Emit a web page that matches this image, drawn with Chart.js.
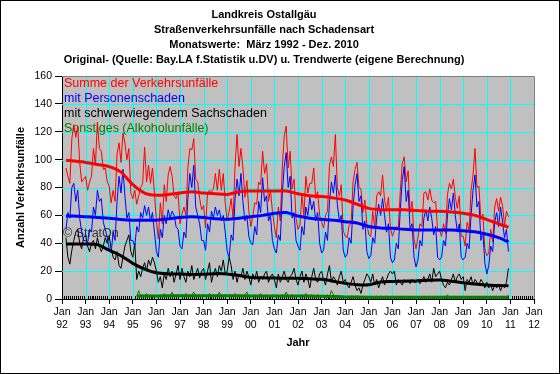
<!DOCTYPE html>
<html>
<head>
<meta charset="utf-8">
<script src="https://cdn.jsdelivr.net/npm/chart.js@4"></script>
<style>
  html, body { margin: 0; padding: 0; background: #fff; }
  canvas { display: block; }
</style>
</head>
<body>
<canvas id="chart" width="560" height="374"></canvas>
<script>
// Monatswerte Maerz 1992 - Dez. 2010
const startYear = 1992;
const startMonth = 3;

const titleLines = [
    'Landkreis Ostallgäu',
    'Straßenverkehrsunfälle nach Schadensart',
    'Monatswerte:  März 1992 - Dez. 2010',
    'Original- (Quelle: Bay.LA f.Statistik u.DV) u. Trendwerte (eigene Berechnung)'
];
const seriesNames = [
    'Summe der Verkehrsunfälle',
    'mit Personenschaden',
    'mit schwerwiegendem Sachschaden',
    'Sonstiges (Alkoholunfälle)'
];
const seriesColors = ['#FF0000', '#0000FF', '#000000', '#008000'];
const yearTicks = [1992, 1993, 1994, 1995, 1996, 1997, 1998, 1999, 2000, 2001, 2002,
                   2003, 2004, 2005, 2006, 2007, 2008, 2009, 2010, 2011, 2012];
const valueTicks = [0, 20, 40, 60, 80, 100, 120, 140, 160];

// Summe der Verkehrsunfaelle (ab Maerz 1992)
const summe = [
    94, 88, 83, 115, 125, 116, 124, 98, 84, 86,
    88, 78, 84, 88, 108, 96, 127, 108, 106, 93, 94, 84,
    81, 69, 78, 70, 104, 112, 98, 119, 112, 100, 108, 76,
    72, 78, 68, 74, 80, 83, 109, 84, 96, 83, 94, 76,
    56, 43, 69, 54, 82, 70, 89, 95, 88, 74, 72, 77,
    54, 61, 66, 60, 94, 108, 107, 115, 86, 84, 72, 64,
    67, 51, 76, 78, 77, 79, 90, 78, 93, 78, 90, 69,
    56, 63, 72, 58, 96, 118, 95, 108, 94, 73, 85, 63,
    52, 59, 69, 68, 84, 82, 106, 90, 97, 70, 78, 63,
    52, 44, 66, 56, 94, 117, 124, 94, 106, 79, 86, 58,
    50, 53, 75, 60, 88, 76, 83, 83, 94, 72, 77, 60,
    55, 51, 60, 63, 96, 102, 95, 118, 80, 74, 82, 49,
    45, 44, 53, 54, 84, 93, 98, 80, 79, 62, 71, 54,
    46, 45, 63, 51, 74, 77, 74, 89, 71, 64, 73, 51,
    45, 49, 52, 51, 77, 97, 102, 84, 92, 62, 70, 43,
    36, 44, 54, 52, 76, 77, 71, 79, 71, 69, 70, 49,
    49, 45, 54, 47, 75, 83, 79, 86, 73, 65, 74, 45,
    45, 38, 55, 49, 78, 89, 108, 80, 81, 57, 61, 36,
    31, 33, 50, 41, 66, 72, 63, 73, 67, 53, 63, 59
];

// mit Personenschaden
const personen = [
    50, 62, 58, 80, 83, 70, 78, 58, 48, 42,
    42, 40, 50, 48, 66, 60, 78, 70, 72, 55, 50, 44,
    36, 33, 48, 42, 70, 88, 76, 93, 74, 58, 62, 42,
    42, 38, 52, 48, 62, 58, 67, 60, 66, 56, 62, 48,
    34, 30, 50, 44, 60, 54, 64, 58, 63, 60, 52, 50,
    38, 36, 48, 44, 72, 90, 80, 96, 66, 60, 54, 42,
    42, 35, 54, 48, 63, 58, 66, 60, 64, 56, 60, 48,
    34, 30, 46, 42, 72, 86, 74, 90, 70, 56, 60, 45,
    40, 39, 52, 46, 70, 62, 87, 70, 74, 56, 60, 42,
    36, 33, 46, 42, 75, 95, 105, 80, 88, 58, 62, 42,
    38, 35, 52, 46, 66, 60, 73, 64, 70, 56, 62, 40,
    33, 35, 48, 42, 70, 84, 76, 89, 68, 56, 60, 35,
    30, 32, 44, 40, 66, 82, 90, 70, 74, 50, 56, 34,
    29, 31, 44, 40, 58, 68, 60, 72, 60, 48, 54, 30,
    26, 28, 40, 36, 64, 85, 95, 70, 78, 50, 54, 30,
    23, 28, 42, 38, 58, 64, 56, 66, 58, 46, 52, 30,
    28, 30, 42, 38, 60, 72, 64, 76, 60, 48, 54, 30,
    28, 30, 40, 36, 60, 78, 89, 66, 70, 42, 48, 26,
    18, 24, 38, 34, 55, 62, 52, 66, 55, 44, 50, 34
];

// mit schwerwiegendem Sachschaden
const sachschaden = [
    44, 30, 25, 35, 42, 48, 50, 40, 36, 44,
    46, 38, 34, 40, 42, 36, 44, 38, 34, 38, 44, 40,
    45, 36, 30, 28, 34, 24, 22, 30, 38, 42, 46, 34,
    30, 40, 14, 20, 16, 22, 26, 20, 28, 24, 30, 26,
    20, 12, 16, 8, 18, 14, 22, 16, 20, 12, 18, 24,
    14, 22, 16, 12, 20, 16, 24, 14, 18, 22, 15, 20,
    22, 14, 20, 26, 12, 18, 22, 16, 24, 20, 28, 18,
    20, 30, 24, 14, 20, 12, 18, 16, 22, 14, 20, 16,
    10, 18, 14, 20, 12, 16, 14, 18, 20, 12, 16, 18,
    14, 8, 18, 12, 16, 20, 14, 12, 16, 18, 22, 14,
    10, 16, 20, 12, 18, 14, 8, 16, 22, 14, 12, 18,
    20, 14, 10, 18, 24, 12, 16, 14, 10, 16, 20, 12,
    14, 10, 8, 12, 16, 10, 6, 8, 4, 10, 14, 18,
    16, 12, 18, 10, 14, 8, 12, 16, 10, 14, 18, 20,
    18, 20, 10, 14, 12, 10, 14, 12, 13, 11, 14, 12,
    12, 14, 11, 13, 16, 12, 14, 18, 12, 22, 16, 18,
    20, 14, 10, 8, 12, 10, 14, 18, 12, 16, 18, 14,
    16, 6, 14, 12, 16, 10, 14, 12, 10, 14, 12, 8,
    12, 8, 10, 6, 10, 8, 10, 6, 10, 8, 12, 22
];

// Sonstiges (Alkoholunfaelle), erst ab Maerz 1995
const sonstigesStartYear = 1995;
const sonstiges = [
    2, 6, 2, 3, 2, 4, 2, 3, 2, 2,
    2, 1, 3, 2, 4, 2, 3, 2, 5, 2, 2, 3,
    2, 3, 2, 4, 2, 2, 3, 5, 2, 2, 3, 2,
    3, 2, 2, 4, 2, 3, 2, 2, 5, 2, 2, 3,
    2, 3, 2, 2, 4, 2, 3, 2, 2, 3, 5, 2,
    2, 2, 3, 2, 2, 4, 2, 2, 3, 2, 2, 3,
    2, 3, 2, 2, 3, 2, 5, 2, 2, 3, 2, 2,
    2, 2, 3, 2, 4, 2, 2, 3, 2, 2, 3, 2,
    2, 2, 2, 3, 2, 6, 3, 2, 2, 2, 2, 2,
    1, 2, 1, 2, 2, 1, 2, 2, 1, 2, 1, 2,
    1, 2, 1, 1, 2, 1, 2, 1, 1, 2, 1, 1,
    1, 1, 2, 1, 1, 2, 1, 2, 1, 1, 2, 1,
    1, 2, 1, 1, 2, 1, 1, 2, 1, 1, 2, 1,
    1, 1, 2, 1, 3, 1, 1, 2, 1, 1, 2, 1,
    1, 2, 1, 1, 2, 1, 1, 2, 1, 1, 1, 2,
    1, 1, 2, 1, 1, 2, 1, 1, 2, 1, 1, 3
];

const trendYears = [1992.17, 1992.5, 1993, 1993.5, 1994, 1994.5, 1995, 1995.5, 1996, 1996.5,
                    1997, 1997.5, 1998, 1998.5, 1999, 1999.5, 2000, 2000.5, 2001, 2001.5,
                    2002, 2002.5, 2003, 2003.5, 2004, 2004.5, 2005, 2005.5, 2006, 2006.5,
                    2007, 2007.5, 2008, 2008.5, 2009, 2009.5, 2010, 2010.5, 2010.92];
const trendSumme = [99.5, 99, 98, 96.5, 95, 91, 82, 76, 74.5, 75,
                    76, 77, 76, 75.5, 75, 77, 77.5, 77.5, 77.5, 77.5,
                    75.5, 74, 73.5, 72.5, 71, 68, 65, 64, 64, 64,
                    63.5, 63, 63, 62.5, 61.5, 60, 57, 54, 51.5];
const trendPersonen = [59.5, 59.5, 59, 58.5, 58, 57, 56.5, 56.5, 56.5, 57.5,
                       58.5, 59, 58.5, 57.5, 57.2, 58, 59, 60, 61.5, 62,
                       59.5, 58, 57.2, 56.5, 55.5, 54.5, 52, 51, 50.7, 50,
                       49.5, 49.5, 49.5, 49.5, 49, 48.3, 46.5, 44, 41];
const trendSachschaden = [39.5, 39.5, 39.5, 39, 35, 31, 25.6, 21.5, 18.8, 18,
                          17.9, 17.5, 17.8, 18.2, 18, 16.8, 15.5, 15.2, 15, 14.9,
                          14.8, 14.5, 14.1, 12.8, 11.2, 10.3, 10.2, 12.2, 12.6, 12.8,
                          13, 13.4, 13.6, 12.8, 11.7, 10.8, 10, 9.7, 9.5];
const trendSonstigesYears = [1995.17, 1996, 1997, 1998, 1999, 2000, 2001, 2002, 2003,
                             2004, 2005, 2006, 2007, 2008, 2009, 2010, 2010.92];
const trendSonstiges = [2.1, 2.2, 2.3, 2.3, 2.3, 2.2, 2.2, 2.1, 2.0,
                        1.5, 1.3, 1.3, 1.3, 1.3, 1.3, 1.3, 1.3];

const fontFamily = 'Arial, "Liberation Sans", sans-serif';

function monthlyPoints(values, year, month) {
    return values.map((v, i) => ({x: year + (month - 1 + i) / 12, y: v}));
}

function trendPoints(years, values) {
    return years.map((x, i) => ({x: x, y: values[i]}));
}

// Hintergrund, Gitter, Rahmen, Titel und Beschriftung
const decor = {
    id: 'decor',
    beforeDraw(chart) {
        const {ctx, chartArea: a} = chart;
        ctx.save();
        ctx.fillStyle = '#FFFFFF';
        ctx.fillRect(0, 0, chart.width, chart.height);
        ctx.fillStyle = '#C0C0C0';
        ctx.fillRect(a.left, a.top, a.right - a.left, a.bottom - a.top);
        ctx.restore();
    },
    beforeDatasetsDraw(chart) {
        const {ctx, chartArea: a} = chart;
        const xs = chart.scales.x;
        const ys = chart.scales.y;
        ctx.save();
        ctx.lineWidth = 1;

        // cyan grid
        ctx.strokeStyle = '#00FFFF';
        ctx.beginPath();
        yearTicks.slice(1, -1).forEach(v => {
            const px = Math.round(xs.getPixelForValue(v)) + 0.5;
            ctx.moveTo(px, a.top);
            ctx.lineTo(px, a.bottom);
        });
        valueTicks.slice(1, -1).forEach(v => {
            const py = Math.round(ys.getPixelForValue(v)) + 0.5;
            ctx.moveTo(a.left, py);
            ctx.lineTo(a.right, py);
        });
        ctx.stroke();

        // gray top/right frame of the plot area
        ctx.strokeStyle = '#808080';
        ctx.beginPath();
        ctx.moveTo(a.left, a.top + 0.5);
        ctx.lineTo(a.right + 0.5, a.top + 0.5);
        ctx.lineTo(a.right + 0.5, a.bottom);
        ctx.stroke();

        // monthly minor ticks on the x axis
        ctx.strokeStyle = '#000';
        ctx.beginPath();
        for (let m = 1; m < 240; m++) {
            if (m % 12 === 0) continue;
            const px = Math.round(xs.getPixelForValue(startYear + m / 12)) + 0.5;
            ctx.moveTo(px, a.bottom);
            ctx.lineTo(px, a.bottom - 3);
        }
        ctx.stroke();

        // legend text inside the plot
        ctx.font = '12.5px ' + fontFamily;
        ctx.textAlign = 'left';
        ctx.textBaseline = 'middle';
        seriesNames.forEach((name, i) => {
            ctx.fillStyle = seriesColors[i];
            ctx.fillText(name, a.left + 2, a.top + 8 + i * 15);
        });
        ctx.fillStyle = '#333';
        ctx.fillText('© StratOn', a.left + 1, a.top + 158);
        ctx.restore();
    },
    afterDraw(chart) {
        const {ctx, chartArea: a} = chart;
        ctx.save();
        ctx.fillStyle = '#000';
        ctx.textAlign = 'center';
        ctx.textBaseline = 'middle';
        ctx.font = 'bold 11px ' + fontFamily;
        const titleY = [15, 30, 44.5, 59.5];
        titleLines.forEach((t, i) => ctx.fillText(t, 264, titleY[i]));

        ctx.fillText('Jahr', (a.left + a.right) / 2, 343);

        ctx.translate(21, (a.top + a.bottom) / 2);
        ctx.rotate(-Math.PI / 2);
        ctx.fillText('Anzahl Verkehrsunfälle', 0, 0);
        ctx.restore();

        ctx.save();
        ctx.strokeStyle = '#000';
        ctx.lineWidth = 1;
        ctx.strokeRect(0.5, 0.5, chart.width - 1, chart.height - 1);
        ctx.restore();
    }
};

function rawSet(data, color) {
    return {data: data, borderColor: color, borderWidth: 1, pointRadius: 0, fill: false, tension: 0};
}
function trendSet(data, color) {
    return {data: data, borderColor: color, borderWidth: 3, pointRadius: 0, fill: false, tension: 0.3};
}

// first dataset is drawn on top
const datasets = [
    trendSet(trendPoints(trendYears, trendSumme), seriesColors[0]),
    trendSet(trendPoints(trendYears, trendPersonen), seriesColors[1]),
    trendSet(trendPoints(trendYears, trendSachschaden), seriesColors[2]),
    trendSet(trendPoints(trendSonstigesYears, trendSonstiges), seriesColors[3]),
    rawSet(monthlyPoints(personen, startYear, startMonth), seriesColors[1]),
    rawSet(monthlyPoints(summe, startYear, startMonth), seriesColors[0]),
    rawSet(monthlyPoints(sachschaden, startYear, startMonth), seriesColors[2]),
    rawSet(monthlyPoints(sonstiges, sonstigesStartYear, startMonth), seriesColors[3])
];

new Chart(document.getElementById('chart').getContext('2d'), {
    type: 'line',
    data: {datasets: datasets},
    options: {
        responsive: false,
        animation: false,
        layout: {padding: {left: 0, right: 26, top: 76, bottom: 0}},
        plugins: {legend: {display: false}, tooltip: {enabled: false}},
        scales: {
            x: {
                type: 'linear',
                min: 1992,
                max: 2012,
                afterFit(scale) { scale.height = 75; },
                afterBuildTicks(scale) { scale.ticks = yearTicks.map(v => ({value: v})); },
                ticks: {
                    autoSkip: false,
                    maxRotation: 0,
                    padding: 2,
                    color: '#000',
                    font: {family: fontFamily, size: 10.5},
                    callback: v => ['Jan', String(Math.round(v) % 100).padStart(2, '0')]
                },
                grid: {drawOnChartArea: false, color: '#000', tickColor: '#000', tickLength: 5},
                border: {color: '#000'}
            },
            y: {
                min: 0,
                max: 160,
                afterFit(scale) { scale.width = 62; },
                afterBuildTicks(scale) { scale.ticks = valueTicks.map(v => ({value: v})); },
                ticks: {
                    padding: 3,
                    color: '#000',
                    font: {family: fontFamily, size: 10.5}
                },
                grid: {drawOnChartArea: false, color: '#000', tickColor: '#000', tickLength: 7},
                border: {color: '#000'}
            }
        }
    },
    plugins: [decor]
});
</script>
</body>
</html>
